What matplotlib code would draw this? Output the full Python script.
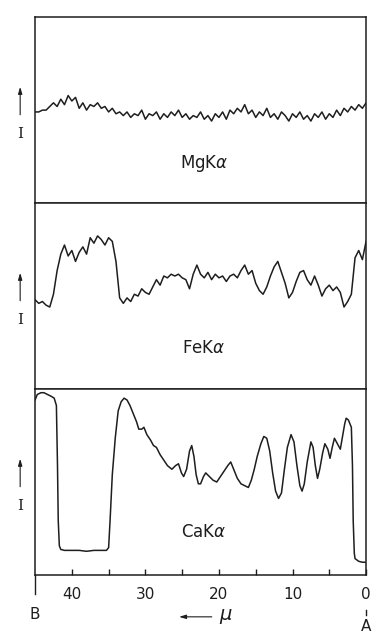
import numpy as np
import matplotlib
matplotlib.use("Agg")
import matplotlib.pyplot as plt

# scan positions along the line B -> A (microns), 0.5 micron steps
mu = np.arange(45, -0.25, -0.5)

mg_int = [0.50, 0.50, 0.51, 0.51, 0.53, 0.55, 0.53, 0.57, 0.54, 0.59,
          0.56, 0.58, 0.52, 0.55, 0.51, 0.54, 0.53, 0.55, 0.52, 0.53,
          0.50, 0.52, 0.49, 0.50, 0.48, 0.50, 0.47, 0.49, 0.48, 0.51,
          0.46, 0.49, 0.48, 0.50, 0.46, 0.49, 0.47, 0.50, 0.48, 0.51,
          0.47, 0.49, 0.46, 0.48, 0.47, 0.50, 0.46, 0.48, 0.45, 0.49,
          0.47, 0.50, 0.46, 0.51, 0.49, 0.52, 0.50, 0.54, 0.49, 0.51,
          0.47, 0.50, 0.48, 0.52, 0.47, 0.49, 0.46, 0.50, 0.48, 0.45,
          0.49, 0.47, 0.50, 0.46, 0.48, 0.45, 0.49, 0.47, 0.50, 0.46,
          0.49, 0.47, 0.51, 0.48, 0.52, 0.50, 0.53, 0.51, 0.54, 0.52,
          0.55]

fe_int = [0.49, 0.47, 0.48, 0.46, 0.45, 0.52, 0.65, 0.74, 0.79, 0.73,
          0.76, 0.70, 0.75, 0.78, 0.74, 0.83, 0.80, 0.84, 0.82, 0.79,
          0.83, 0.81, 0.70, 0.50, 0.47, 0.50, 0.48, 0.52, 0.51, 0.55,
          0.53, 0.52, 0.56, 0.60, 0.57, 0.62, 0.61, 0.63, 0.62, 0.63,
          0.61, 0.60, 0.55, 0.63, 0.68, 0.63, 0.61, 0.64, 0.60, 0.63,
          0.61, 0.62, 0.59, 0.62, 0.63, 0.61, 0.65, 0.68, 0.63, 0.65,
          0.58, 0.54, 0.52, 0.56, 0.62, 0.67, 0.70, 0.64, 0.58, 0.50,
          0.53, 0.59, 0.64, 0.65, 0.60, 0.57, 0.62, 0.57, 0.51, 0.55,
          0.57, 0.54, 0.56, 0.53, 0.45, 0.48, 0.52, 0.72, 0.76, 0.71,
          0.81]

ca_mu = [45.0, 44.7, 44.2, 43.8, 43.3, 42.8, 42.4, 42.1, 41.95, 41.85,
         41.7, 41.5, 41.0, 40.0, 39.0, 38.0, 37.0, 36.0, 35.3, 35.0,
         34.8, 34.5, 34.1, 33.7, 33.3, 32.9, 32.5, 32.1, 31.6, 31.2,
         30.9, 30.5, 30.2, 29.8, 29.3, 28.9, 28.5, 28.0, 27.5, 27.0,
         26.4, 25.9, 25.5, 25.1, 24.8, 24.4, 24.0, 23.7, 23.4, 23.1,
         22.8, 22.5, 22.1, 21.8, 21.3, 20.8, 20.3, 19.8, 19.3, 18.8,
         18.4, 18.0, 17.5, 17.0, 16.5, 16.0, 15.6, 15.2, 14.8, 14.3,
         13.9, 13.5, 13.1, 12.7, 12.3, 11.9, 11.5, 11.1, 10.7, 10.2,
         9.8, 9.4, 9.0, 8.7, 8.4, 8.0, 7.5, 7.2, 6.9, 6.6,
         6.3, 5.9, 5.6, 5.2, 4.9, 4.6, 4.3, 3.9, 3.5, 3.2,
         2.9, 2.7, 2.4, 2.0, 1.85, 1.75, 1.6, 1.5, 1.0, 0.5,
         0.0]
ca_int = [0.96, 0.99, 1.00, 1.00, 0.99, 0.98, 0.97, 0.93, 0.60, 0.30,
          0.16, 0.14, 0.135, 0.135, 0.135, 0.13, 0.135, 0.135, 0.135, 0.15,
          0.30, 0.55, 0.75, 0.90, 0.95, 0.97, 0.96, 0.93, 0.88, 0.84,
          0.80, 0.80, 0.81, 0.77, 0.74, 0.71, 0.70, 0.66, 0.63, 0.60,
          0.58, 0.60, 0.61, 0.56, 0.54, 0.58, 0.68, 0.71, 0.65, 0.55,
          0.50, 0.50, 0.54, 0.56, 0.54, 0.52, 0.51, 0.54, 0.57, 0.60,
          0.62, 0.58, 0.53, 0.50, 0.49, 0.48, 0.52, 0.58, 0.65, 0.72,
          0.76, 0.75, 0.68, 0.56, 0.46, 0.42, 0.45, 0.58, 0.70, 0.77,
          0.73, 0.60, 0.49, 0.46, 0.50, 0.62, 0.73, 0.70, 0.60, 0.53,
          0.58, 0.67, 0.72, 0.69, 0.64, 0.70, 0.75, 0.72, 0.69, 0.76,
          0.83, 0.86, 0.85, 0.81, 0.60, 0.30, 0.12, 0.09, 0.075, 0.07,
          0.07]

labels = ["MgK$\\alpha$", "FeK$\\alpha$", "CaK$\\alpha$"]
major_ticks = [40, 30, 20, 10, 0]
minor_ticks = [35, 25, 15, 5]

ink = "#1e1e1e"
plt.rcParams['font.family'] = ['DejaVu Sans']

fig = plt.figure(figsize=(3.77, 6.35), dpi=100)
left, width = 0.093, 0.878
bottom, top = 0.0945, 0.973
h = (top - bottom) / 3

axes = []
for i in range(3):
    ax = fig.add_axes([left, top - (i + 1) * h, width, h])
    axes.append(ax)

traces = [(mu, mg_int), (mu, fe_int), (ca_mu, ca_int)]
label_y = [0.215, 0.22, 0.23]
for ax, (xs, ys), lab, ly in zip(axes, traces, labels, label_y):
    ax.plot(xs, ys, color=ink, lw=1.1)
    ax.set_xlim(45, 0)
    ax.set_ylim(0, 1.02)
    ax.set_yticks([])
    for sp in ax.spines.values():
        sp.set_linewidth(1.1)
        sp.set_color(ink)
    ax.text(0.51, ly, lab, transform=ax.transAxes, ha='center', va='center',
            fontsize=12, color=ink)
    # intensity arrow and "I" at the left of each panel
    ax.annotate('', xy=(-0.045, 0.64), xytext=(-0.045, 0.46),
                xycoords='axes fraction', textcoords='axes fraction',
                arrowprops=dict(arrowstyle='-|>,head_length=0.4,head_width=0.12',
                                color=ink, lw=0.8))
    ax.text(-0.045, 0.37, 'I', transform=ax.transAxes, ha='center', va='center',
            fontsize=11, family='DejaVu Serif', color=ink)

for ax in axes[:2]:
    ax.set_xticks([])

axb = axes[2]
axb.set_xticks(major_ticks)
axb.set_xticks(minor_ticks, minor=True)
axb.tick_params(axis='x', which='both', direction='in', length=4, width=1.0,
                colors=ink, labelsize=11, pad=9)

# markers for the ends of the scan line
trans = axb.get_xaxis_transform()
axb.plot([45, 45], [0, -0.1], transform=trans, color=ink, lw=1.0, clip_on=False)
axb.text(45, -0.21, 'B', transform=trans, ha='center', va='center', fontsize=11, color=ink)
axb.plot([0, 0], [-0.19, -0.215], transform=trans, color=ink, lw=1.0, clip_on=False)
axb.text(0, -0.275, 'A', transform=trans, ha='center', va='center', fontsize=11, color=ink)

axb.annotate('', xy=(25.8, -0.225), xytext=(20.6, -0.225),
             xycoords=trans, textcoords=trans,
             arrowprops=dict(arrowstyle='-|>,head_length=0.4,head_width=0.12',
                             color=ink, lw=0.8))
axb.text(19.0, -0.225, '$\\mu$', transform=trans, ha='center', va='center',
         fontsize=14, color=ink)

fig.savefig('out.png', dpi=100)
